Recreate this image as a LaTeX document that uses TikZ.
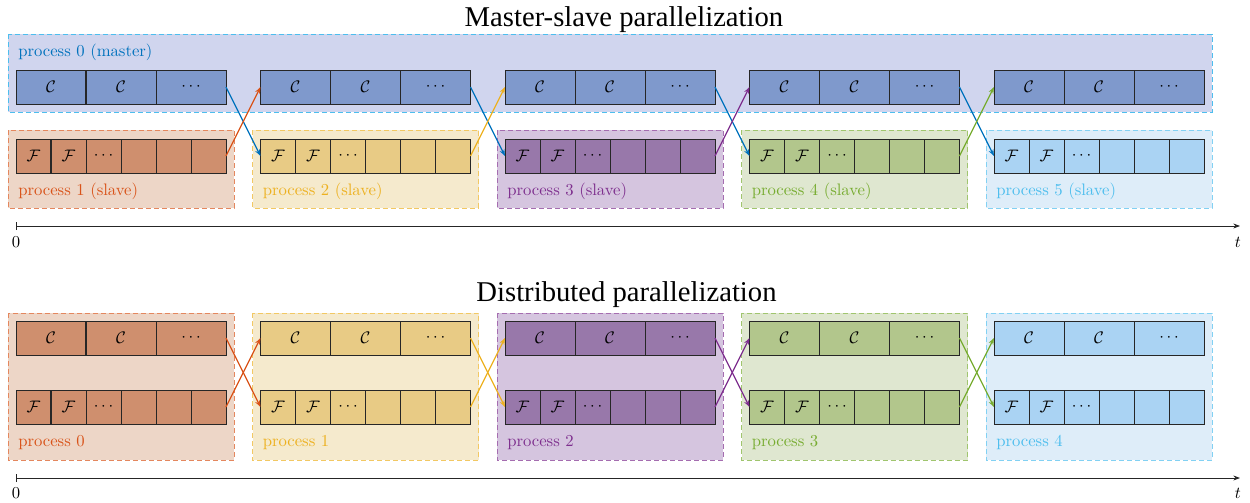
\documentclass[tikz,border=0pt]{standalone}
\usepackage{fontspec}
\newfontfamily\titlefont{Liberation Serif}
\usetikzlibrary{arrows.meta}
\definecolor{cblue}{HTML}{0072BD}
\definecolor{corange}{HTML}{D95319}
\definecolor{cyellow}{HTML}{EDB120}
\definecolor{cpurple}{HTML}{7E2F8E}
\definecolor{cgreen}{HTML}{77AC30}
\definecolor{clight}{HTML}{4DBEEE}
\definecolor{mcell}{HTML}{7F99CC}
\definecolor{mbox}{HTML}{D0D5EE}
\definecolor{cell1}{HTML}{CF8F6E}
\definecolor{cell2}{HTML}{E8CB85}
\definecolor{cell3}{HTML}{9878AA}
\definecolor{cell4}{HTML}{B2C68C}
\definecolor{cell5}{HTML}{AAD3F3}
\definecolor{box1}{HTML}{EDD6C7}
\definecolor{box2}{HTML}{F5EACD}
\definecolor{box3}{HTML}{D5C5DF}
\definecolor{box4}{HTML}{DFE7D0}
\definecolor{box5}{HTML}{DEEDF9}
\begin{document}
\begin{tikzpicture}[x=0.6pt,y=-0.6pt,
  cell/.style={draw=black!85, line width=0.6pt, inner sep=0pt, outer sep=0pt, minimum height=20.4pt, anchor=west},
  ccell/.style={cell, minimum width=42pt},
  fcell/.style={cell, minimum width=21pt},
  pbox/.style={dash pattern=on 3pt off 1.8pt, line width=0.6pt},
  lbl/.style={anchor=base west, inner sep=0pt, font=\fontsize{10}{12}\selectfont},
  ttl/.style={anchor=base, inner sep=0pt, font=\titlefont\fontsize{17.2}{20}\selectfont},
  link/.style={line width=0.7pt, -{Stealth[length=4pt,width=3pt]}},
  axis/.style={line width=0.5pt, black!85, {Bar[width=5pt]}-{Stealth[length=4pt,width=3pt]}},
]
\useasboundingbox (0,0) rectangle (1250,502);

% ---------------- Master-slave ----------------
\node[ttl] (title1) at (624,26) {Master-slave parallelization};
\draw[pbox, draw=clight, fill=mbox] (8,34) rectangle (1212,112);
\node[lbl, text=cblue] (lblm) at (18,56.5) {process 0 (master)};

\foreach \i/\x/\col in {1/16/corange,2/260.5/cyellow,3/505/cpurple,4/749.5/cgreen,5/994/clight}{
  \draw[pbox, draw=\col!70, fill=box\i] (\x-8,130) rectangle (\x+218,208);
  \node[lbl, text=\col] (ls\i) at (\x+2,195) {process \i{} (slave)};
  \node[ccell, fill=mcell] (tc\i-1) at (\x,87) {$\mathcal{C}$};
  \node[ccell, fill=mcell] (tc\i-2) at (\x+70,87) {$\mathcal{C}$};
  \node[ccell, fill=mcell] (tc\i-3) at (\x+140,87) {$\cdots$};
  \node[fcell, fill=cell\i] (tf\i-1) at (\x,156) {$\mathcal{F}$};
  \node[fcell, fill=cell\i] (tf\i-2) at (\x+35,156) {$\mathcal{F}$};
  \node[fcell, fill=cell\i] (tf\i-3) at (\x+70,156) {$\cdots$};
  \node[fcell, fill=cell\i] (tf\i-4) at (\x+105,156) {};
  \node[fcell, fill=cell\i] (tf\i-5) at (\x+140,156) {};
  \node[fcell, fill=cell\i] (tf\i-6) at (\x+175,156) {};
}
\foreach \i/\n/\col in {1/2/corange,2/3/cyellow,3/4/cpurple,4/5/cgreen}{
  \draw[link, cblue] (tc\i-3.east) -- (tf\n-1.west);
  \draw[link, \col] (tf\i-6.east) -- (tc\n-1.west);
}
\coordinate (ta0) at (16,226);
\coordinate (ta1) at (1240,226);
\draw[axis] (ta0) -- (ta1);
\node[inner sep=0pt] (tz) at (16,242) {$0$};
\node[inner sep=0pt] (tt) at (1238,242) {$t$};

% ---------------- Distributed ----------------
\node[ttl] (title2) at (626.5,301.7) {Distributed parallelization};
\foreach \i/\x/\col/\p in {1/16/corange/0,2/260.5/cyellow/1,3/505/cpurple/2,4/749.5/cgreen/3,5/994/clight/4}{
  \draw[pbox, draw=\col!70, fill=box\i] (\x-8,313) rectangle (\x+218,460);
  \node[lbl, text=\col] (ld\i) at (\x+2,446.5) {process \p};
  \node[ccell, fill=cell\i] (bc\i-1) at (\x,338) {$\mathcal{C}$};
  \node[ccell, fill=cell\i] (bc\i-2) at (\x+70,338) {$\mathcal{C}$};
  \node[ccell, fill=cell\i] (bc\i-3) at (\x+140,338) {$\cdots$};
  \node[fcell, fill=cell\i] (bf\i-1) at (\x,407) {$\mathcal{F}$};
  \node[fcell, fill=cell\i] (bf\i-2) at (\x+35,407) {$\mathcal{F}$};
  \node[fcell, fill=cell\i] (bf\i-3) at (\x+70,407) {$\cdots$};
  \node[fcell, fill=cell\i] (bf\i-4) at (\x+105,407) {};
  \node[fcell, fill=cell\i] (bf\i-5) at (\x+140,407) {};
  \node[fcell, fill=cell\i] (bf\i-6) at (\x+175,407) {};
}
\foreach \i/\n/\col in {1/2/corange,2/3/cyellow,3/4/cpurple,4/5/cgreen}{
  \draw[link, \col] (bc\i-3.east) -- (bf\n-1.west);
  \draw[link, \col] (bf\i-6.east) -- (bc\n-1.west);
}
\coordinate (ba0) at (16,478);
\coordinate (ba1) at (1240,478);
\draw[axis] (ba0) -- (ba1);
\node[inner sep=0pt] (bz) at (16,493) {$0$};
\node[inner sep=0pt] (bt) at (1238,493) {$t$};
\end{tikzpicture}
\end{document}
